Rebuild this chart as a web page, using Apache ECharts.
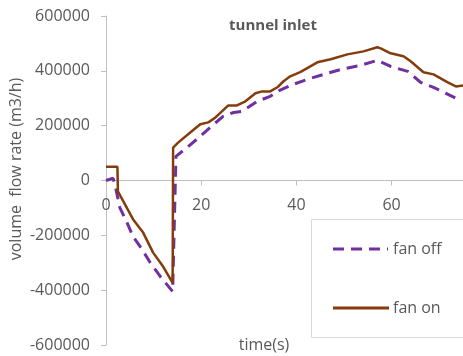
<!DOCTYPE html>
<html><head><meta charset="utf-8">
<script src="https://cdn.jsdelivr.net/npm/echarts@6/dist/echarts.min.js"></script>
<style>html,body{margin:0;padding:0;background:#fff}#c{width:463px;height:356px}</style>
</head><body><div id="c"></div>
<script>
var fanOnTime = [0, 2.4, 2.5, 5.7, 7.8, 9.9, 12, 14, 14.1, 15.2, 17.7, 19.8, 21.5, 23, 25.7, 27.5, 29.3, 31.4, 32.8, 34.5, 36, 37.3, 38.7, 40.8, 44.4, 47.2, 50.7, 54.1, 57, 57.7, 59.8, 62.5, 64, 66.7, 68.8, 71.8, 73.5, 75];
var fanOnValues = [50000, 50000, -40000, -142000, -190000, -263000, -314000, -373000, 120000, 139000, 175000, 205000, 212000, 230000, 274000, 274000, 289000, 318000, 325000, 325000, 340000, 362000, 380000, 395000, 431000, 442000, 460000, 471000, 486000, 482000, 464000, 453000, 435000, 395000, 387000, 358000, 343000, 347000];
var fanOffTime = [0, 1.5, 1.8, 2.1, 2.9, 4.4, 5.7, 7.6, 9.3, 11.4, 14, 14.1, 14.7, 17, 19.8, 21.9, 24.6, 26.8, 28.6, 31.8, 34.5, 36.6, 39.4, 42.3, 45.7, 49.3, 53.5, 57, 59.8, 63.4, 66.1, 68.8, 73.5];
var fanOffValues = [0, 8000, 8000, -33000, -99000, -153000, -205000, -252000, -300000, -350000, -405000, -405000, 88000, 120000, 161000, 194000, 234000, 248000, 252000, 289000, 307000, 330000, 351000, 369000, 387000, 405000, 420000, 438000, 416000, 398000, 358000, 340000, 300000];
var xTicks = [0, 20, 40, 60];
var seriesNames = ['fan off', 'fan on'];
var seriesColors = ['#7030a0', '#843c0c'];

function pairs(t, v) { return t.map(function (x, i) { return [x, v[i]]; }); }
var FONT = 'Open Sans';
var chart = echarts.init(document.getElementById('c'), null, {renderer: 'canvas'});
chart.setOption({
  animation: false,
  backgroundColor: '#ffffff',
  textStyle: {fontFamily: FONT},
  grid: {left: 106, right: 0, top: 16, bottom: 11, containLabel: false, outerBoundsMode: 'none'},
  xAxis: {
    type: 'value', min: 0, max: 75, interval: 20, position: 'bottom', offset: -164.5,
    axisLine: {onZero: false, lineStyle: {color: '#bfbfbf', width: 1}},
    axisTick: {show: true, length: 5, customValues: xTicks, lineStyle: {color: '#bfbfbf'}},
    axisLabel: {customValues: xTicks, color: '#595959', fontSize: 16, fontFamily: FONT, margin: 17},
    splitLine: {show: false}
  },
  yAxis: {
    type: 'value', min: -600000, max: 600000, interval: 200000,
    axisLine: {show: true, lineStyle: {color: '#bfbfbf', width: 1}},
    axisTick: {show: true, length: 5, lineStyle: {color: '#bfbfbf'}},
    axisLabel: {color: '#595959', fontSize: 16, fontFamily: FONT, margin: 16, formatter: function (v) { return String(v); }},
    splitLine: {show: false}
  },
  graphic: [
    {type: 'rect', shape: {x: 311.5, y: 219.5, width: 160, height: 118}, style: {fill: 'none', stroke: '#d9d9d9', lineWidth: 1}, z: 0},
    {type: 'line', shape: {x1: 333, y1: 249, x2: 388, y2: 249}, style: {stroke: seriesColors[0], lineWidth: 3, lineDash: [11, 7]}},
    {type: 'text', x: 393, y: 249, style: {text: seriesNames[0], fontFamily: FONT, fontSize: 16, fill: '#595959', align: 'left', verticalAlign: 'middle'}},
    {type: 'line', shape: {x1: 333, y1: 308, x2: 389, y2: 308}, style: {stroke: seriesColors[1], lineWidth: 3}},
    {type: 'text', x: 393, y: 308, style: {text: seriesNames[1], fontFamily: FONT, fontSize: 16, fill: '#595959', align: 'left', verticalAlign: 'middle'}},
    {type: 'text', x: 273, y: 26, style: {text: 'tunnel inlet', fontFamily: FONT, fontSize: 15, fontWeight: 'bold', fill: '#595959', align: 'center', verticalAlign: 'middle'}},
    {type: 'text', x: 264, y: 345, style: {text: 'time(s)', fontFamily: FONT, fontSize: 16, fill: '#595959', align: 'center', verticalAlign: 'middle'}},
    {type: 'text', x: 16, y: 169, rotation: Math.PI / 2, style: {text: 'volume  flow rate (m3/h)', fontFamily: FONT, fontSize: 16, fill: '#595959', align: 'center', verticalAlign: 'middle'}}
  ],
  series: [
    {name: seriesNames[0], type: 'line', symbol: 'none', data: pairs(fanOffTime, fanOffValues),
     lineStyle: {color: seriesColors[0], width: 3, type: [11, 7], cap: 'butt'}, itemStyle: {color: seriesColors[0]}, z: 2},
    {name: seriesNames[1], type: 'line', symbol: 'none', data: pairs(fanOnTime, fanOnValues),
     lineStyle: {color: seriesColors[1], width: 2.5}, itemStyle: {color: seriesColors[1]}, z: 3}
  ]
});
</script></body></html>
